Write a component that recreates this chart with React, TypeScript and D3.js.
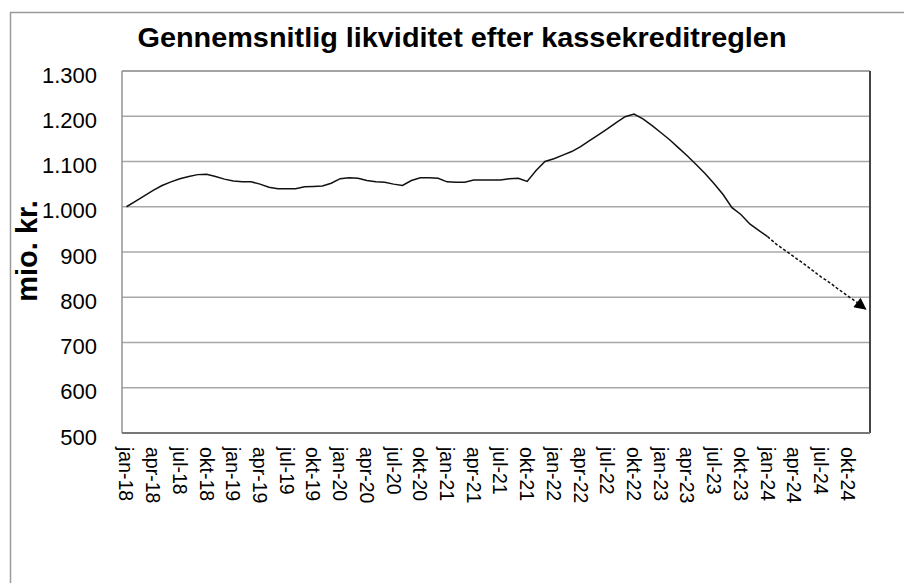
import React from "react";
import * as d3 from "d3";

const monthNames = ["jan", "feb", "mar", "apr", "maj", "jun", "jul", "aug", "sep", "okt", "nov", "dec"];
const years = [18, 19, 20, 21, 22, 23, 24];

// månedlige værdier, mio. kr., jan-18 .. dec-24
const liquidity = [
  1000, 1012, 1024, 1036, 1047, 1055, 1062, 1067, 1071, 1072, 1067, 1061,
  1057, 1055, 1055, 1050, 1043, 1040, 1040, 1040, 1044, 1045, 1046, 1052,
  1062, 1064, 1063, 1058, 1055, 1054, 1050, 1047, 1058, 1064, 1064, 1063,
  1055, 1054, 1054, 1059, 1059, 1059, 1059, 1062, 1063, 1056, 1080, 1100,
  1106, 1114, 1122, 1133, 1146, 1159, 1172, 1186, 1199, 1205, 1194, 1180,
  1164, 1148, 1130, 1112, 1093, 1073, 1051, 1027, 998, 983, 962, 948,
  934, 917, 903, 889, 875, 860, 845, 832, 817, 803, 789, 774,
];

const forecastStart = 72; // jan-24, herfra stiplet
const yTicks = [500, 600, 700, 800, 900, 1000, 1100, 1200, 1300];

const months = years.flatMap((y) => monthNames.map((m) => `${m}-${y}`));

const width = 904,
  height = 583,
  left = 122,
  right = 870,
  top = 71,
  bottom = 433;

const fmt = (v: number) => (v >= 1000 ? `${Math.floor(v / 1000)}.${String(v % 1000).padStart(3, "0")}` : `${v}`);

const App = () => {
  const x = d3.scaleBand().domain(months).range([left, right]);
  const y = d3.scaleLinear().domain([500, 1300]).range([bottom, top]);
  const cx = (m: string) => (x(m) as number) + x.bandwidth() / 2;

  const line = d3
    .line<number>()
    .x((_, i) => cx(months[i]))
    .y((d) => y(d));

  const actual = liquidity.slice(0, forecastStart + 1);
  const forecast = liquidity.slice(forecastStart);
  const forecastLine = d3
    .line<number>()
    .x((_, i) => cx(months[i + forecastStart]))
    .y((d) => y(d));

  const font = "'Liberation Sans', Arial, sans-serif";

  return (
    <svg
      width={width}
      height={height}
      style={{ position: "fixed", left: 0, top: 0, background: "#fff" }}
      fontFamily={font}
    >
      <defs>
        <marker id="arrow" viewBox="0 0 10 10" refX="9" refY="5" markerWidth="15" markerHeight="12" markerUnits="userSpaceOnUse" orient="auto">
          <path d="M0,0 L10,5 L0,10 Z" fill="#000" />
        </marker>
      </defs>
      <rect x={10.5} y={12.5} width={1000} height={1000} fill="#fff" stroke="#9a9a9a" strokeWidth={1.5} />

      <text x={462} y={46.5} textAnchor="middle" fontSize={27.5} fontWeight="bold" fill="#000" textLength={649} lengthAdjust="spacingAndGlyphs">
        Gennemsnitlig likviditet efter kassekreditreglen
      </text>

      {yTicks.map((t) => (
        <g key={t}>
          <line x1={left} x2={right} y1={y(t)} y2={y(t)} stroke="#a8a8a8" strokeWidth={1.6} />
          <text x={97} y={y(t) + 11.5} textAnchor="end" fontSize={22} fill="#000">
            {fmt(t)}
          </text>
        </g>
      ))}

      <line x1={left} x2={left} y1={top} y2={bottom} stroke="#9a9a9a" strokeWidth={1.6} />
      <line x1={left} x2={right} y1={top} y2={top} stroke="#9a9a9a" strokeWidth={1.6} />
      <line x1={right} x2={right} y1={top} y2={bottom} stroke="#444" strokeWidth={2} />
      <line x1={left} x2={right} y1={bottom} y2={bottom} stroke="#777" strokeWidth={2} />

      <path d={line(actual) ?? ""} fill="none" stroke="#111" strokeWidth={1.5} />
      <path d={forecastLine(forecast) ?? ""} fill="none" stroke="#111" strokeWidth={1.5} strokeDasharray="3,2" markerEnd="url(#arrow)" />

      {months
        .filter((_, i) => i % 3 === 0)
        .map((m) => (
          <text
            key={m}
            transform={`translate(${cx(m)},447) rotate(90)`}
            dy="0.36em"
            fontSize={19.5}
            fill="#000"
          >
            {m}
          </text>
        ))}

      <text transform="translate(37,251) rotate(-90)" textAnchor="middle" fontSize={29} fontWeight="bold" fill="#000">
        mio. kr.
      </text>
    </svg>
  );
};

export default App;
